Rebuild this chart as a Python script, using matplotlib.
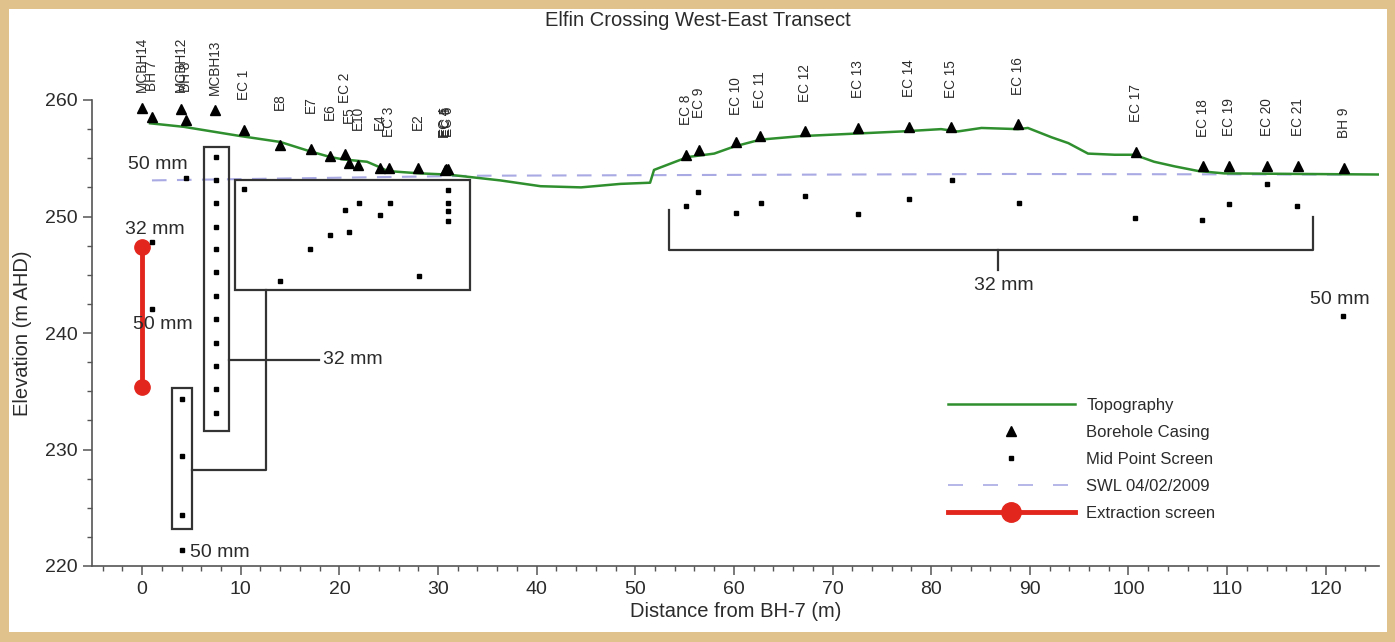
"""Elfin Crossing west-east transect: topography, casings, screens and SWL."""

import matplotlib

matplotlib.use("Agg")

import matplotlib.pyplot as plt
from matplotlib.lines import Line2D
from matplotlib.patches import Rectangle
from matplotlib.ticker import MultipleLocator

plt.rcParams["font.family"] = ["Liberation Sans", "DejaVu Sans"]

# ground surface along the transect (distance m, elevation m AHD)
topo_x = [0.8, 4.2, 10.0, 14.0, 17.0, 19.1, 20.4, 22.8, 23.9, 24.9, 28.2, 31.0, 36.3,
          40.4, 44.5, 48.5, 51.5, 51.9, 55.3, 58.0, 60.0, 62.7, 66.8, 71.9, 77.0,
          81.0, 82.7, 85.1, 88.8, 89.8, 92.2, 93.9, 95.9, 98.6, 100.6, 102.6, 104.7,
          107.1, 109.7, 126.0]
topo_y = [258.0, 257.7, 256.9, 256.4, 255.6, 255.1, 254.9, 254.7, 254.3, 253.9, 253.7,
          253.6, 253.1, 252.6, 252.5, 252.8, 252.9, 254.0, 255.1, 255.4, 256.0, 256.6,
          256.9, 257.1, 257.3, 257.5, 257.3, 257.6, 257.5, 257.6, 256.8, 256.3, 255.4,
          255.3, 255.3, 254.7, 254.3, 253.9, 253.7, 253.6]

# standing water level 04/02/2009
swl_x = [1.0, 34.0, 88.0, 121.6]
swl_y = [253.1, 253.5, 253.65, 253.6]

# borehole casings
bore_names = ["MCBH14", "BH 7", "MCBH12", "BH 8", "MCBH13", "EC 1", "E8", "E7", "E6",
              "EC 2", "E5", "E10", "E4", "EC 3", "E2", "EC 4", "EC 5", "EC 6",
              "EC 8", "EC 9", "EC 10", "EC 11", "EC 12", "EC 13", "EC 14", "EC 15",
              "EC 16", "EC 17", "EC 18", "EC 19", "EC 20", "EC 21", "BH 9"]
bore_x = [0.0, 1.0, 3.9, 4.5, 7.4, 10.3, 14.0, 17.1, 19.0, 20.6, 21.0, 21.9, 24.1,
          25.0, 28.0, 30.7, 30.85, 31.0,
          55.1, 56.5, 60.2, 62.6, 67.2, 72.6, 77.7, 82.0, 88.8, 100.8, 107.6, 110.2,
          114.0, 117.2, 121.9]
casing_y = [259.3, 258.5, 259.2, 258.3, 259.1, 257.4, 256.1, 255.8, 255.2, 255.4,
            254.6, 254.4, 254.2, 254.2, 254.2, 254.0, 254.05, 254.1,
            255.3, 255.7, 256.4, 256.9, 257.3, 257.6, 257.7, 257.7, 257.9, 255.5,
            254.3, 254.3, 254.3, 254.3, 254.2]
# gap between casing marker and its name, px (names overlap otherwise)
label_gap = [16, 26, 17, 28, 15, 30, 35, 36, 36, 51, 40, 35, 38, 31, 38, 32, 32, 32,
             30, 32, 27, 28, 29, 30, 30, 29, 29, 30, 29, 30, 30, 30, 30]

# mid point of screens
screen_x = ([1.0, 1.0, 4.5, 4.0, 4.0, 4.0, 4.0] + [7.5] * 12
            + [10.3, 14.0, 17.0, 19.0, 20.6, 21.0, 22.0, 24.1, 25.1, 28.1,
               31.0, 31.0, 31.0, 31.0]
            + [55.1, 56.4, 60.2, 62.7, 67.2, 72.6, 77.8, 82.1, 88.9, 100.7, 107.5,
               110.2, 114.0, 117.1, 121.8])
screen_y = ([247.8, 242.1, 253.3, 234.3, 229.4, 224.4, 221.4]
            + [255.1, 253.1, 251.2, 249.1, 247.2, 245.2, 243.2, 241.2, 239.1, 237.2,
               235.2, 233.1]
            + [252.4, 244.5, 247.2, 248.4, 250.6, 248.7, 251.2, 250.1, 251.2, 244.9,
               252.3, 251.2, 250.5, 249.6]
            + [250.9, 252.1, 250.3, 251.2, 251.8, 250.2, 251.5, 253.1, 251.2, 249.9,
               249.7, 251.1, 252.8, 250.9, 241.5])

# extraction screen interval
extract_x = [0.0, 0.0]
extract_y = [247.4, 235.4]

legend_labels = ["Topography", "Borehole Casing", "Mid Point Screen", "SWL 04/02/2009",
                 "Extraction screen"]

GREEN = "#2f8f2f"
LAVENDER = "#a9a9e4"
RED = "#e3261d"
BEIGE = "#dfc28c"
INK = "#2b2b2b"
FRAME = "#555555"

W, H = 1395, 642
fig = plt.figure(figsize=(W / 100, H / 100), dpi=100, facecolor=BEIGE)
fig.add_artist(Rectangle((9 / W, 10 / H), 1378 / W, 623 / H, transform=fig.transFigure,
                         facecolor="white", edgecolor="none", zorder=0))

ax = fig.add_axes([92 / W, 76 / H, 1287 / W, 466 / H])
ax.set_facecolor("white")
ax.set_xlim(-5.08, 125.4)
ax.set_ylim(220, 260)

topo_line, = ax.plot(topo_x, topo_y, color=GREEN, lw=1.8, zorder=3)
swl_line, = ax.plot(swl_x, swl_y, color=LAVENDER, lw=1.5, dashes=(7, 5), zorder=2)
casing_pts, = ax.plot(bore_x, casing_y, ls="none", marker="^", ms=7, color="black",
                      clip_on=False, zorder=5)
screen_pts, = ax.plot(screen_x, screen_y, ls="none", marker="s", ms=3.3, color="black",
                      zorder=5)
extract_line, = ax.plot(extract_x, extract_y, color=RED, lw=3.5, marker="o", ms=11,
                        solid_capstyle="butt", zorder=4)

for name, x, y, gap in zip(bore_names, bore_x, casing_y, label_gap):
    ax.annotate(name, (x, y), xytext=(0, gap * 0.72), textcoords="offset points",
                rotation=90, ha="center", va="bottom", fontsize=9.8, color=INK,
                annotation_clip=False)

# screen grouping boxes and leaders
box_kw = dict(fill=False, edgecolor="#333333", lw=1.6, zorder=4)
ax.add_patch(Rectangle((6.3, 231.6), 2.5, 24.4, **box_kw))
ax.add_patch(Rectangle((3.0, 223.2), 2.1, 12.1, **box_kw))
ax.add_patch(Rectangle((9.4, 243.7), 23.8, 9.4, **box_kw))
lead_kw = dict(color="#333333", lw=1.6, zorder=4)
ax.plot([12.6, 12.6, 5.1], [243.7, 228.2, 228.2], **lead_kw)
ax.plot([8.8, 17.9], [237.7, 237.7], **lead_kw)
ax.plot([53.4, 53.4, 118.7, 118.7], [250.6, 247.1, 247.1, 250.0], **lead_kw)
ax.plot([86.8, 86.8], [247.1, 245.4], **lead_kw)

txt_kw = dict(fontsize=14, color=INK, va="center", zorder=6)
ax.text(-1.4, 254.45, "50 mm", ha="left", **txt_kw)
ax.text(-1.7, 248.85, "32 mm", ha="left", **txt_kw)
ax.text(-0.9, 240.7, "50 mm", ha="left", **txt_kw)
ax.text(18.3, 237.7, "32 mm", ha="left", **txt_kw)
ax.text(4.9, 221.2, "50 mm", ha="left", **txt_kw)
ax.text(87.4, 244.1, "32 mm", ha="center", **txt_kw)
ax.text(118.4, 242.9, "50 mm", ha="left", **txt_kw)

ax.set_xticks(range(0, 121, 10))
ax.xaxis.set_minor_locator(MultipleLocator(2))
ax.set_yticks(range(220, 261, 10))
ax.yaxis.set_minor_locator(MultipleLocator(2.5))
ax.tick_params(which="major", length=6.5, width=1.1, color=FRAME, labelsize=14,
               labelcolor=INK, pad=4)
ax.tick_params(which="minor", length=3.5, width=1.0, color=FRAME)
for side in ("top", "right"):
    ax.spines[side].set_visible(False)
for side in ("left", "bottom"):
    ax.spines[side].set_color(FRAME)
    ax.spines[side].set_linewidth(1.2)

ax.set_xlabel("Distance from BH-7 (m)", fontsize=14.5, color=INK, labelpad=3)
ax.set_ylabel("Elevation (m AHD)", fontsize=14.5, color=INK, labelpad=9)
fig.text(0.5, 1 - 20 / H, "Elfin Crossing West-East Transect", ha="center",
         va="center", fontsize=14.5, color=INK)

handles = [
    Line2D([], [], color=GREEN, lw=1.8),
    Line2D([], [], ls="none", marker="^", ms=6.5, color="black"),
    Line2D([], [], ls="none", marker="s", ms=3.3, color="black"),
    Line2D([], [], color=LAVENDER, lw=1.2, dashes=(9, 12)),
    Line2D([], [], color=RED, lw=3.5, marker="o", ms=14),
]
ax.legend(handles, legend_labels, loc="upper left",
          bbox_to_anchor=(948 / W, 1 - 398 / H), bbox_transform=fig.transFigure,
          frameon=False, fontsize=12, handlelength=7.6, handletextpad=0.7,
          labelspacing=0.72, borderpad=0, borderaxespad=0, numpoints=1,
          labelcolor=INK)

fig.savefig("out.png", dpi=100, facecolor=BEIGE)
